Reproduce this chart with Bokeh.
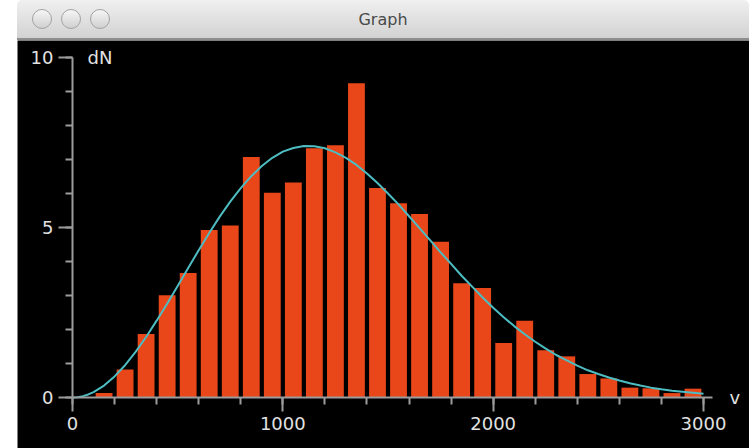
from bokeh.plotting import figure
from bokeh.models import FixedTicker, Label, Div, Spacer, ColumnDataSource
from bokeh.layouts import row, column
from bokeh.embed import file_html
from bokeh.resources import INLINE

# ---- data ----
bin_centers = [150, 250, 350, 450, 550, 650, 750, 850, 950, 1050,
               1150, 1250, 1350, 1450, 1550, 1650, 1750, 1850, 1950, 2050,
               2150, 2250, 2350, 2450, 2550, 2650, 2750, 2850, 2950]
bin_counts = [0.13, 0.82, 1.87, 3.01, 3.66, 4.93, 5.06, 7.07, 6.02, 6.32,
              7.33, 7.42, 9.24, 6.16, 5.71, 5.40, 4.58, 3.36, 3.22, 1.60,
              2.26, 1.39, 1.21, 0.69, 0.56, 0.29, 0.27, 0.13, 0.26]

curve_v = [0, 25, 50, 75, 100, 150, 200, 250, 300, 350, 400, 450, 500,
           550, 600, 650, 700, 750, 800, 850, 900, 950, 1000,
           1050, 1100, 1150, 1200, 1250, 1300, 1350, 1400, 1450, 1500,
           1550, 1600, 1650, 1700, 1750, 1800, 1850, 1900, 1950, 2000,
           2050, 2100, 2150, 2200, 2250, 2300, 2350, 2400, 2450, 2500,
           2550, 2600, 2650, 2700, 2750, 2800, 2850, 2900, 2950, 3000]
curve_dn = [0.0, 0.01, 0.04, 0.09, 0.16, 0.35, 0.62, 0.95, 1.34, 1.78, 2.26, 2.76, 3.28,
            3.81, 4.33, 4.84, 5.32, 5.76, 6.16, 6.51, 6.81, 7.05, 7.23,
            7.34, 7.40, 7.39, 7.33, 7.21, 7.05, 6.84, 6.59, 6.31, 6.00,
            5.68, 5.33, 4.98, 4.63, 4.27, 3.93, 3.58, 3.26, 2.94, 2.64,
            2.36, 2.10, 1.86, 1.64, 1.44, 1.25, 1.09, 0.94, 0.80, 0.69,
            0.59, 0.50, 0.42, 0.35, 0.29, 0.24, 0.20, 0.17, 0.14, 0.11]

x_major = [0, 1000, 2000, 3000]
x_minor = [0, 200, 400, 600, 800, 1000, 1200, 1400, 1600, 1800, 2000,
           2200, 2400, 2600, 2800, 3000]
y_major = [0, 5, 10]
y_minor = [0, 1, 2, 3, 4, 5, 6, 7, 8, 9, 10]

window_title = "Graph"
x_label = "v"
y_label = "dN"

# ---- styles ----
BAR = "#E94619"
CURVE = "#4DBDC2"
AXIS = "#9c9c9c"
TEXT = "#e2e2e2"
FONT = "DejaVu Sans"

X_END = 3043   # end of the drawn x axis line
Y_END = 10

p = figure(width=732, height=408, title=None,
           x_range=(-261.5, 3218.7), y_range=(-1.5, 10.5),
           output_backend="svg", toolbar_location=None, min_border=0)
p.background_fill_color = "black"
p.border_fill_color = "black"
p.outline_line_color = None
p.grid.visible = False

src = ColumnDataSource(dict(x=bin_centers, top=bin_counts))
p.vbar(x="x", top="top", bottom=0, width=80, source=src,
       fill_color=BAR, line_color=None)
p.line(curve_v, curve_dn, line_color=CURVE, line_width=2)

p.xaxis.ticker = FixedTicker(ticks=x_major, minor_ticks=x_minor)
p.yaxis.ticker = FixedTicker(ticks=y_major, minor_ticks=y_minor)
p.xaxis.bounds = (0, X_END)
p.yaxis.bounds = (0, Y_END)
p.xaxis.fixed_location = 0
p.yaxis.fixed_location = 0
for ax in (p.xaxis, p.yaxis):
    ax.axis_line_color = AXIS
    ax.axis_line_width = 2
    ax.major_tick_line_color = AXIS
    ax.major_tick_line_width = 2
    ax.minor_tick_line_color = AXIS
    ax.minor_tick_line_width = 2
    ax.major_tick_in = 0
    ax.major_tick_out = 14
    ax.minor_tick_in = 0
    ax.minor_tick_out = 7
    ax.major_label_text_color = TEXT
    ax.major_label_text_font = FONT
    ax.major_label_text_font_size = "18px"
p.xaxis.major_label_standoff = 5
p.yaxis.major_label_standoff = 5

p.add_layout(Label(x=0, y=Y_END, x_offset=15, text=y_label, text_baseline="middle",
                   text_color=TEXT, text_font=FONT, text_font_size="18px"))
p.add_layout(Label(x=X_END, y=0, x_offset=17, text=x_label, text_baseline="middle",
                   text_color=TEXT, text_font=FONT, text_font_size="18px"))

btn = ("position:absolute;top:9px;width:20px;height:20px;border-radius:50%;"
       "border:1px solid #a3a3a3;box-sizing:border-box;"
       "background:linear-gradient(#f6f6f6,#d0d0d0);")
title_html = (
    '<div style="position:relative;width:732px;height:40px;box-sizing:border-box;'
    'background:linear-gradient(#f0f0f0,#d2d2d2);border-bottom:2px solid #8e8e8e;'
    'border-radius:5px 5px 0 0;font-family:\'DejaVu Sans\';">'
    f'<span style="{btn}left:15px;"></span>'
    f'<span style="{btn}left:44px;"></span>'
    f'<span style="{btn}left:73px;"></span>'
    '<span style="position:absolute;left:0;width:100%;top:9px;text-align:center;'
    f'font-size:16px;color:#4a4a4a;">{window_title}</span>'
    '</div>'
)
bar_div = Div(text=title_html, width=732, height=40, styles={"margin": "0", "padding": "0"})

layout = row(Spacer(width=17, height=448), column(bar_div, p))

open("out.html", "w").write(file_html(layout, INLINE))
